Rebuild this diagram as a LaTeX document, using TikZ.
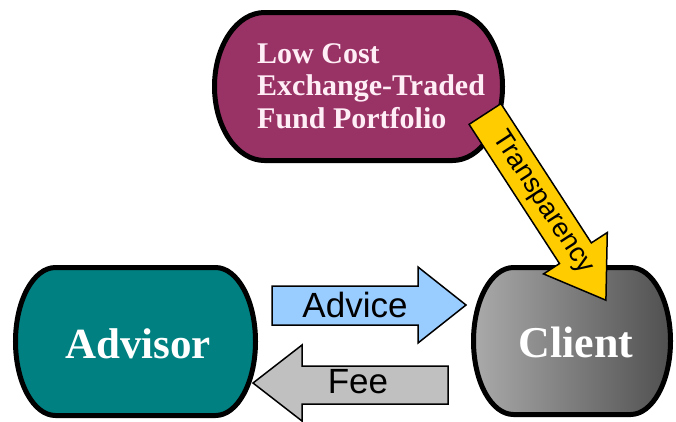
\documentclass[tikz,border=0pt]{standalone}
\usepackage{fontspec}
\setmainfont{Liberation Serif}
\newfontfamily\arialf{Liberation Sans}
\definecolor{plum}{RGB}{153,51,102}
\definecolor{tealbox}{RGB}{0,128,128}
\definecolor{gold}{RGB}{255,204,0}
\definecolor{skyb}{RGB}{153,204,255}
\definecolor{silverg}{RGB}{192,192,192}
\definecolor{clientL}{RGB}{170,170,170}
\definecolor{clientR}{RGB}{80,80,80}
\definecolor{pinkw}{RGB}{255,238,246}
\newcommand\capsule[5]{(#1+#5,#2) -- (#3-#5,#2)
  arc[start angle=90,end angle=-90,x radius=#5 bp,y radius={(#4-#2)/2*1bp}]
  -- (#1+#5,#4)
  arc[start angle=270,end angle=90,x radius=#5 bp,y radius={(#4-#2)/2*1bp}] -- cycle}
\begin{document}
\begin{tikzpicture}[x=1bp,y=-1bp,
  boxline/.style={draw=black,line width=5bp},
  arrline/.style={draw=black,line width=1.5bp,line join=miter},
  boxtext/.style={inner sep=0pt,text=white,font=\bfseries\fontsize{43bp}{46bp}\selectfont},
  arrtext/.style={inner sep=0pt,font=\arialf\fontsize{35bp}{38bp}\selectfont}]
\useasboundingbox (0,0) rectangle (676,421);
% top box
\path[boxline,fill=plum] \capsule{214.5}{12.5}{502.5}{160.5}{50};
\node[inner sep=0pt,anchor=north west,align=left,text=pinkw,
  font=\bfseries\fontsize{30bp}{32.5bp}\selectfont] (etf) at (257,43)
  {Low Cost\\Exchange-Traded\\Fund Portfolio};
% advisor
\path[boxline,fill=tealbox] \capsule{15.5}{267.5}{255.5}{415.5}{40};
\node[boxtext,anchor=base] (advisor) at (138,358) {Advisor};
% client
\shade[left color=clientL,right color=clientR] \capsule{473.5}{267.5}{670.5}{414.5}{40};
\path[boxline] \capsule{473.5}{267.5}{670.5}{414.5}{40};
\node[boxtext,anchor=base,font=\bfseries\fontsize{44bp}{46bp}\selectfont] (client) at (576,357) {Client};
% advice arrow
\path[arrline,fill=skyb] (272,286) -- (418,286) -- (418,267) -- (466,305)
  -- (418,343) -- (418,325) -- (272,325) -- cycle;
\node[arrtext,anchor=base] (advice) at (355,317) {Advice};
% fee arrow
\path[arrline,fill=silverg] (448,366) -- (302,366) -- (302,345) -- (253,383)
  -- (302,421) -- (302,404) -- (448,404) -- cycle;
\node[arrtext,anchor=base] (fee) at (358,393) {Fee};
% transparency arrow
\begin{scope}[shift={(485,114)},rotate=-57]
\path[arrline,fill=gold] (0,-19) -- (166,-19) -- (166,-38) -- (222,0)
  -- (166,38) -- (166,19) -- (0,19) -- cycle;
\node[inner sep=0pt,rotate=-57,font=\arialf\fontsize{27bp}{29bp}\selectfont] (transp) at (106,0) {Transparency};
\end{scope}
\end{tikzpicture}
\end{document}
